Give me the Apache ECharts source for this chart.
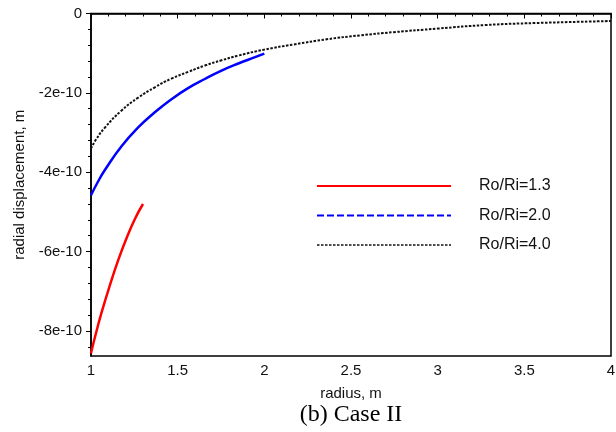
<!DOCTYPE html>
<html>
<head>
<meta charset="utf-8">
<script src="https://cdn.jsdelivr.net/npm/echarts@6/dist/echarts.min.js"></script>
<style>
  html, body { margin: 0; padding: 0; background: #fff; }
  #chart { width: 616px; height: 432px; }
</style>
</head>
<body>
<div id="chart"></div>
<script>
// Radial displacement u(r) of the cylinder for three radius ratios Ro/Ri
const radius13 = [1.0, 1.023, 1.062, 1.11, 1.158, 1.206, 1.254, 1.3];
const disp13 = [-8.56e-10, -8.15e-10, -7.52e-10, -6.83e-10, -6.20e-10, -5.65e-10, -5.17e-10, -4.80e-10];

const radius20 = [1.0, 1.04, 1.079, 1.175, 1.272, 1.368, 1.464, 1.56, 1.657, 1.753, 1.85, 1.946, 2.0];
const disp20 = [-4.58e-10, -4.24e-10, -3.95e-10, -3.35e-10, -2.87e-10, -2.49e-10, -2.16e-10, -1.88e-10,
                -1.65e-10, -1.44e-10, -1.26e-10, -1.10e-10, -1.01e-10];

const radius40 = [1.0, 1.03, 1.079, 1.175, 1.272, 1.368, 1.464, 1.561, 1.657, 1.753, 1.85, 2.0, 2.17, 2.36,
                  2.555, 2.747, 3.0, 3.277, 3.566, 4.0];
const disp40 = [-3.40e-10, -3.17e-10, -2.88e-10, -2.45e-10, -2.12e-10, -1.86e-10, -1.64e-10, -1.47e-10,
                -1.31e-10, -1.18e-10, -1.06e-10, -0.91e-10, -0.78e-10, -0.65e-10, -0.55e-10, -0.47e-10,
                -0.38e-10, -0.29e-10, -0.24e-10, -0.19e-10];

const seriesNames = ['Ro/Ri=1.3', 'Ro/Ri=2.0', 'Ro/Ri=4.0'];
const yTicks = [0, -2e-10, -4e-10, -6e-10, -8e-10];
const yMin = -8.63e-10;
const yMax = 0;

// minor ticks: five subdivisions between labelled values
const yMinorTicks = [];
for (let i = 0; i < yTicks.length; i++) {
  for (let k = 1; k < 5; k++) {
    const v = yTicks[i] - k * 0.4e-10;
    if (v > yMin) yMinorTicks.push(v);
  }
}

function pairs(xs, ys) { return xs.map((x, i) => [x, ys[i]]); }
function fmtY(v) {
  if (Math.abs(v) < 1e-14) return '0';
  return Math.round(v * 1e10) + 'e-10';
}

const axisFont = { fontFamily: 'Liberation Sans, Arial, sans-serif', fontSize: 15, color: '#111' };

const chart = echarts.init(document.getElementById('chart'), null, { renderer: 'canvas' });
chart.setOption({
  animation: false,
  backgroundColor: '#fff',
  title: {
    text: '(b) Case II',
    left: 346,
    textAlign: 'center',
    top: 398,
    textStyle: { fontFamily: 'Liberation Serif, Times New Roman, serif', fontSize: 24, fontWeight: 'normal', color: '#000' }
  },
  grid: {
    left: 91, right: 5, top: 13.5, bottom: 76,
    show: true, borderColor: '#000', borderWidth: 1.5,
    containLabel: false, outerBoundsMode: 'none'
  },
  legend: {
    orient: 'vertical',
    left: 316, top: 178, padding: 0,
    itemWidth: 134, itemHeight: 14, itemGap: 13.5,
    itemStyle: { opacity: 0 },
    textStyle: Object.assign({}, axisFont, { fontSize: 16, padding: [0, 0, 0, 23] }),
    data: [
      { name: seriesNames[0] },
      { name: seriesNames[1], lineStyle: { type: [7, 3] } },
      { name: seriesNames[2], lineStyle: { width: 1.5 } }
    ]
  },
  xAxis: {
    type: 'value',
    min: 1, max: 4, interval: 0.5,
    name: 'radius, m', nameLocation: 'middle', nameGap: 30,
    nameTextStyle: axisFont,
    axisLine: { lineStyle: { color: '#000', width: 1.5 } },
    axisTick: { show: true, length: 5, lineStyle: { color: '#000', width: 1 } },
    minorTick: { show: true, splitNumber: 5, length: 3, lineStyle: { color: '#000', width: 1 } },
    axisLabel: Object.assign({ margin: 7 }, axisFont),
    splitLine: { show: false }
  },
  yAxis: [
    {
      type: 'value', position: 'left',
      min: yMin, max: yMax,
      name: 'radial displacement, m', nameLocation: 'middle', nameGap: 62,
      nameTextStyle: axisFont,
      axisLine: { show: true, lineStyle: { color: '#000', width: 1.5 } },
      axisTick: { show: true, length: 5, customValues: yTicks, lineStyle: { color: '#000', width: 1 } },
      axisLabel: Object.assign({ margin: 9, customValues: yTicks, formatter: fmtY }, axisFont),
      splitLine: { show: false }
    },
    {
      type: 'value', position: 'left',
      min: yMin, max: yMax,
      axisLine: { show: false },
      axisTick: { show: true, length: 3, customValues: yMinorTicks, lineStyle: { color: '#000', width: 1 } },
      axisLabel: { show: false, customValues: yMinorTicks },
      splitLine: { show: false }
    }
  ],
  series: [
    {
      name: seriesNames[0], type: 'line', yAxisIndex: 0,
      data: pairs(radius13, disp13),
      smooth: 0.5, symbol: 'none',
      lineStyle: { color: '#ff0000', width: 2.5 }, itemStyle: { color: '#ff0000' }
    },
    {
      name: seriesNames[1], type: 'line', yAxisIndex: 0,
      data: pairs(radius20, disp20),
      smooth: 0.5, symbol: 'none',
      lineStyle: { color: '#0000ff', width: 2.5 }, itemStyle: { color: '#0000ff' }
    },
    {
      name: seriesNames[2], type: 'line', yAxisIndex: 0,
      data: pairs(radius40, disp40),
      smooth: 0.5, symbol: 'none',
      lineStyle: { color: '#111', width: 2, type: [2.5, 1.5] }, itemStyle: { color: '#111' }
    }
  ]
});
</script>
</body>
</html>
